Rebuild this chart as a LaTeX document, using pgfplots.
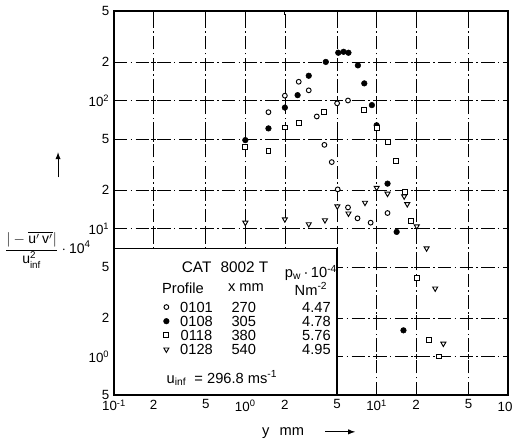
\documentclass[border=0pt]{standalone}
\usepackage{amsmath}
\usepackage{fontspec}
\setmainfont{Liberation Sans}
\usepackage{pgfplots}
\pgfplotsset{compat=1.18}
\begin{document}
\begin{tikzpicture}
\begin{axis}[
  at={(0,0)}, anchor=south west,
  scale only axis, width=295.5pt, height=288pt,
  xmode=log, ymode=log,
  xmin=0.1, xmax=100, ymin=0.5, ymax=500,
  xtick={0.1,0.2,0.5,1,2,5,10,20,50,100},
  xticklabels={10\textsuperscript{-1},2,5,10\textsuperscript{0},2,5,10\textsuperscript{1},2,5,10\textsuperscript{2}},
  ytick={0.5,1,2,5,10,20,50,100,200,500},
  yticklabels={5,10\textsuperscript{0},2,5,10\textsuperscript{1},2,5,10\textsuperscript{2},2,5},
  xminorticks=false, yminorticks=false,
  grid=major,
  major grid style={black, line width=0.45pt, dash pattern=on 10pt off 2.5pt on 1.2pt off 2.5pt},
  axis line style={black, line width=1.1pt},
  tick style={black, line width=0.6pt},
  major tick length=3pt,
  tick label style={font=\fontsize{10}{11}\selectfont},
  clip=false,
  legend cell align=left,
  legend image code/.code={\draw[mark repeat=1,#1] plot coordinates {(0pt,0pt)};},
  legend style={draw=none, fill=none, at={(rel axis cs:0.115,0.255)}, anchor=north west,
    font=\fontsize{11}{12}\selectfont, row sep=0pt, column sep=0pt,
    nodes={inner sep=1.5pt, text height=7.6pt, text depth=0pt}},
]
% grid intersection crosses (outside the key box)
\addplot[only marks, mark=+, mark size=2pt, black, line width=0.5pt, forget plot] coordinates {
(0.2,10)(0.2,20)(0.2,50)(0.2,100)(0.2,200)
(0.5,10)(0.5,20)(0.5,50)(0.5,100)(0.5,200)
(1,10)(1,20)(1,50)(1,100)(1,200)
(2,10)(2,20)(2,50)(2,100)(2,200)
(5,10)(5,20)(5,50)(5,100)(5,200)
(10,1)(10,2)(10,5)(10,10)(10,20)(10,50)(10,100)(10,200)
(20,1)(20,2)(20,5)(20,10)(20,20)(20,50)(20,100)(20,200)
(50,1)(50,2)(50,5)(50,10)(50,20)(50,50)(50,100)(50,200)
};
% key box
\draw[line width=1.1pt, fill=white] (axis cs:0.1,0.5) rectangle (axis cs:5,7);
\node[font=\fontsize{11.5}{12}\selectfont] at (rel axis cs:0.282,0.333) {CAT\hspace{0.6em}8002 T};
\node[font=\fontsize{11}{12}\selectfont] at (rel axis cs:0.175,0.279) {Profile};
\node[font=\fontsize{11}{12}\selectfont] at (rel axis cs:0.335,0.279) {x mm};
\node[font=\fontsize{11}{12}\selectfont] at (rel axis cs:0.500,0.318) {p\textsubscript{w}\,\textperiodcentered\,10\textsuperscript{-4}};
\node[font=\fontsize{11}{12}\selectfont] at (rel axis cs:0.500,0.276) {Nm\textsuperscript{-2}};
\node[font=\fontsize{11}{12}\selectfont] at (rel axis cs:0.274,0.044) {u\textsubscript{inf}\ \ =\ 296.8 ms\textsuperscript{-1}};

\addplot[only marks, mark=*, mark size=1.8pt, mark options={fill=white, draw=black, line width=0.7pt}] coordinates {
(1.5,81)(2,109)(2.55,140)(3.04,120)(3.5,75)(4.0,45)(4.55,33)(5.05,20.2)(5.0,95)(6.05,100)(6.05,14.6)(7.15,12)(9.0,11.1)(12.1,13.2)
};
\addlegendentry{\makebox[38pt][c]{0101}\makebox[33pt][c]{270}\makebox[76pt][c]{4.47}}
\addplot[only marks, mark=*, mark size=2.1pt, mark options={fill=black, draw=black}] coordinates {
(1,49)(1.5,60.5)(2,88)(2.5,110)(3.04,156)(4.1,200)(5.1,236)(5.6,240)(6.1,236)(7.2,188)(8.05,136)(9.2,92)(10,64)(12.1,22.4)(14.2,9.4)(16,1.6)
};
\addlegendentry{\makebox[38pt][c]{0108}\makebox[33pt][c]{305}\makebox[76pt][c]{4.78}}
\addplot[only marks, mark=square*, mark size=1.85pt, mark options={fill=white, draw=black, line width=0.7pt}] coordinates {
(1,43.5)(1.5,40)(2,61.5)(2.55,67)(3.97,81.5)(8.0,84)(10,60.5)(12.1,47.7)(14.1,33.8)(16.3,19.2)(18.2,11.5)(20.2,4.1)(25.1,1.34)(29.7,1.0)
};
\addlegendentry{\makebox[38pt][c]{0118}\makebox[33pt][c]{380}\makebox[76pt][c]{5.76}}
\addplot[only marks, mark=triangle*, mark size=2.2pt, mark options={rotate=180, fill=white, draw=black, line width=0.7pt}] coordinates {
(1,11.1)(2,11.8)(3.04,10.8)(4.04,11.6)(5.02,14.9)(6.1,13.1)(8.15,15.9)(10,20.8)(12.1,18.7)(16.2,17.8)(17.1,15.5)(20.2,10.4)(24,7)(27.9,3.4)(32.2,1.26)
};
\addlegendentry{\makebox[38pt][c]{0128}\makebox[33pt][c]{540}\makebox[76pt][c]{4.95}}

% axis labels
\node[font=\fontsize{10.5}{12}\selectfont] at (rel axis cs:-0.168,0.378)
  {$\dfrac{|-\overline{\text{u}'\,\text{v}'}|}{\text{u}^{\text{2}}_{\text{inf}}}\cdot\text{10}^{\text{4}}$};
\draw[line width=0.8pt, -latex] (rel axis cs:-0.142,0.567) -- (rel axis cs:-0.142,0.632);
\node[font=\fontsize{11}{12}\selectfont] at (rel axis cs:0.429,-0.099) {y\hspace{0.7em}mm};
\draw[line width=0.8pt, -latex] (rel axis cs:0.536,-0.096) -- (rel axis cs:0.612,-0.096);
\end{axis}
\pgfresetboundingbox
\path (-85.5pt,-33pt) rectangle (298.5pt,296.25pt);
\end{tikzpicture}
\end{document}
